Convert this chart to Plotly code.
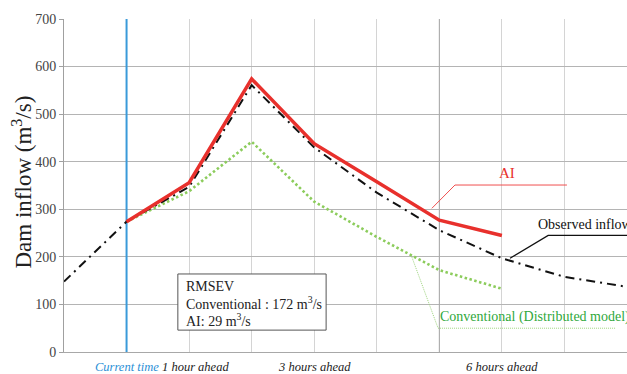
import plotly.graph_objects as go

# ---- data ----
hours = [0, 1, 2, 3, 4, 5, 6, 7, 8, 9]          # x positions (hour -1 .. +8)
observed = [148, 274, 347, 561, 430, 335, 256, 197, 158, 137]
ai_hours = [1, 2, 3, 4, 5, 6, 7]
ai_pred = [274, 356, 574, 438, 358, 277, 245]
conv_hours = [1, 2, 3, 4, 5, 6, 7]
conv_pred = [274, 338, 442, 316, 242, 172, 133]

tick_pos = [1, 2, 4, 7]
tick_text = ["Current time", "1 hour ahead", "3 hours ahead", "6 hours ahead"]
tick_colors = ["#2a8fd6", "#222222", "#222222", "#222222"]
tick_shift = [0, 6, 0, 0]

current_time = 1
six_hours = 6

# callout leader lines (data coordinates)
ai_call_x = [5.88, 6.25, 8.04]
ai_call_y = [302, 351, 351]
obs_call_x = [7.13, 7.74, 9.0]
obs_call_y = [197, 245, 245]
conv_call_x = [5.56, 5.98, 8.81]
conv_call_y = [200, 50, 50]

SERIF = "Liberation Serif"

fig = go.Figure()

# callout lines
fig.add_trace(go.Scatter(x=ai_call_x, y=ai_call_y, mode="lines",
                         line=dict(color="#f05050", width=1), hoverinfo="skip", showlegend=False))
fig.add_trace(go.Scatter(x=obs_call_x, y=obs_call_y, mode="lines",
                         line=dict(color="#111111", width=1.3), hoverinfo="skip", showlegend=False))
fig.add_trace(go.Scatter(x=conv_call_x, y=conv_call_y, mode="lines",
                         line=dict(color="#9fd57f", width=1, dash="1px,1px"), hoverinfo="skip", showlegend=False))

# series
fig.add_trace(go.Scatter(x=conv_hours, y=conv_pred, mode="lines", name="Conventional",
                         line=dict(color="#8ccc5c", width=2.6, dash="2.5px,2.5px")))
fig.add_trace(go.Scatter(x=hours, y=observed, mode="lines", name="Observed",
                         line=dict(color="#111111", width=2, dash="9px,5px,2px,5px")))
fig.add_trace(go.Scatter(x=ai_hours, y=ai_pred, mode="lines", name="AI",
                         line=dict(color="#e8302c", width=3.5)))

# special vertical lines
fig.add_shape(type="line", xref="x", yref="y", x0=six_hours, x1=six_hours, y0=0, y1=700,
              line=dict(color="#a8a8a8", width=1), layer="between")
fig.add_shape(type="line", xref="x", yref="y", x0=current_time, x1=current_time, y0=0, y1=700,
              line=dict(color="#3a9ad9", width=2), layer="between")

# RMSEV box
fig.add_shape(type="rect", xref="x", yref="y", x0=1.82, x1=4.19, y0=46, y1=164,
              line=dict(color="#555555", width=1), fillcolor="white", layer="above")

annotations = []
for x, t, c, s in zip(tick_pos, tick_text, tick_colors, tick_shift):
    annotations.append(dict(x=x, y=0, xref="x", yref="y", yshift=-15, xshift=s,
                            text=t, showarrow=False,
                            font=dict(family=SERIF, size=12.5, color=c, style="italic"),
                            xanchor="center", yanchor="middle"))

box_lines = ["RMSEV", "Conventional : 172 m<sup>3</sup>/s", "AI: 29 m<sup>3</sup>/s"]
box_y = [137, 102, 68]
for t, yv in zip(box_lines, box_y):
    annotations.append(dict(x=1.92, y=yv, xref="x", yref="y", text=t, showarrow=False,
                            xanchor="left", yanchor="middle",
                            font=dict(family=SERIF, size=14, color="#222222")))

annotations += [
    dict(x=7.08, y=376, xref="x", yref="y", text="AI", showarrow=False,
         xanchor="center", yanchor="middle", font=dict(family=SERIF, size=15, color="#e8302c")),
    dict(x=7.55, y=268, xref="x", yref="y", text="Observed inflow", showarrow=False,
         xanchor="left", yanchor="middle", font=dict(family=SERIF, size=14, color="#111111")),
    dict(x=5.98, y=74, xref="x", yref="y", text="Conventional (Distributed model)", showarrow=False,
         xanchor="left", yanchor="middle", font=dict(family=SERIF, size=14, color="#2fa83c")),
    dict(x=0, y=0.5, xref="paper", yref="paper", xshift=-42, yshift=3,
         text="Dam inflow (m<sup>3</sup>/s)", textangle=-90, showarrow=False,
         xanchor="center", yanchor="middle", font=dict(family=SERIF, size=23, color="#222222")),
]

fig.update_layout(
    width=627, height=374,
    margin=dict(l=64, r=0, t=19, b=22),
    paper_bgcolor="white", plot_bgcolor="white",
    font=dict(family=SERIF, size=14, color="#444444"),
    showlegend=False,
    annotations=annotations,
    xaxis=dict(range=[0, 9], dtick=1, tick0=0, showgrid=True, gridcolor="#d4d4d4", gridwidth=1,
               showticklabels=False, showline=True, linecolor="#a8a8a8", zeroline=False,
               fixedrange=True),
    yaxis=dict(range=[0, 700], dtick=100, tick0=0, showgrid=True, gridcolor="#b4b4b4", gridwidth=1,
               showline=True, linecolor="#a0a0a0", ticks="outside", ticklen=4, tickcolor="#a0a0a0",
               zeroline=False, tickfont=dict(family=SERIF, size=14, color="#444444"),
               fixedrange=True),
)

fig.write_html("out.html", config={"displayModeBar": False},
               post_script="document.body.style.margin='0';document.body.style.overflow='hidden';")
